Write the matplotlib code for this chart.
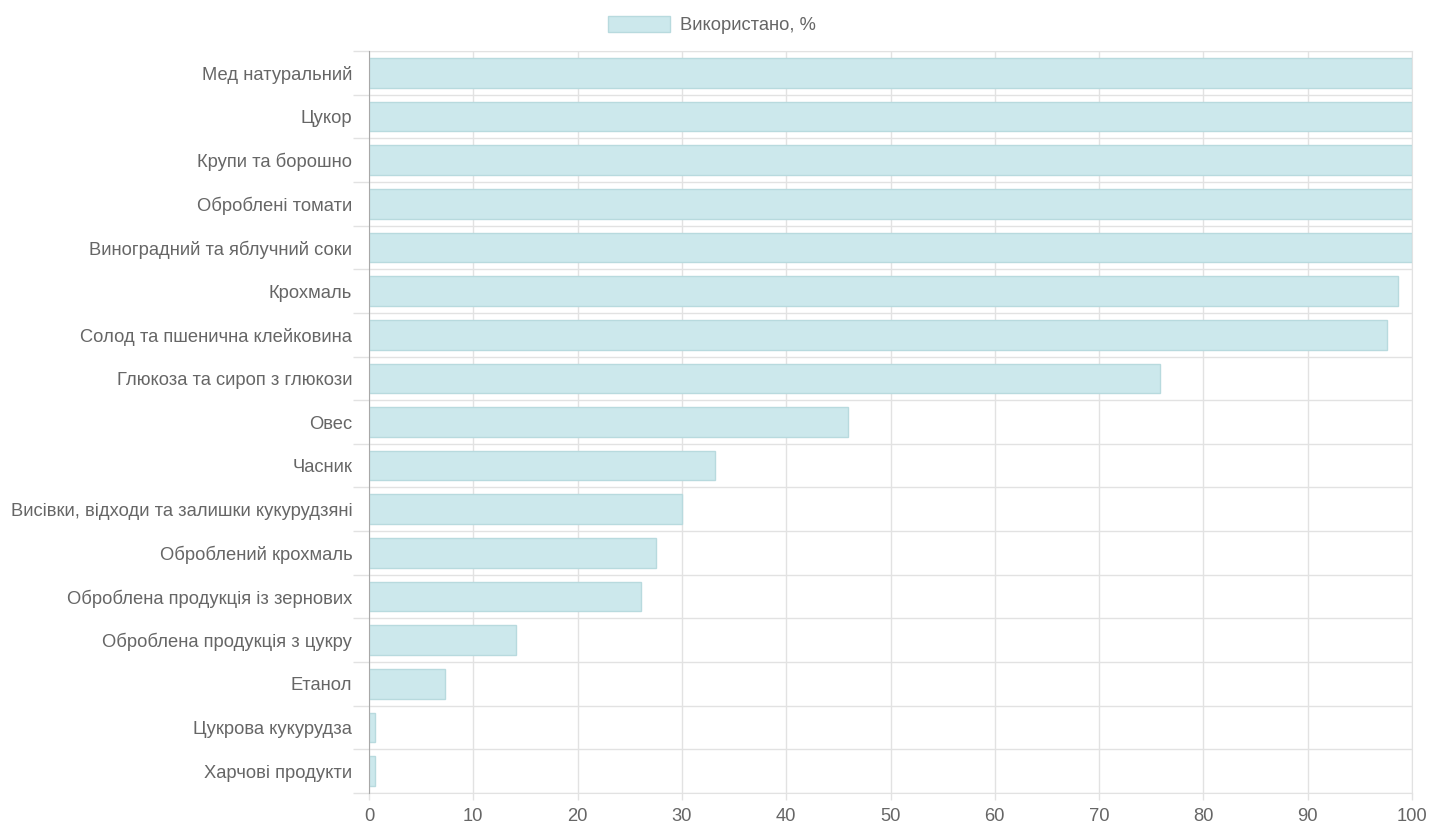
import matplotlib.pyplot as plt
import numpy as np
from matplotlib.ticker import FixedLocator

plt.rcParams['font.family'] = ['Liberation Sans', 'DejaVu Sans']

categories = [
    'Мед натуральний',
    'Цукор',
    'Крупи та борошно',
    'Оброблені томати',
    'Виноградний та яблучний соки',
    'Крохмаль',
    'Солод та пшенична клейковина',
    'Глюкоза та сироп з глюкози',
    'Овес',
    'Часник',
    'Висівки, відходи та залишки кукурудзяні',
    'Оброблений крохмаль',
    'Оброблена продукція із зернових',
    'Оброблена продукція з цукру',
    'Етанол',
    'Цукрова кукурудза',
    'Харчові продукти',
]
used_pct = [100, 100, 100, 100, 100, 98.7, 97.6, 75.8, 45.9, 33.2, 30.0,
            27.5, 26.1, 14.1, 7.3, 0.6, 0.6]
x_ticks = [0, 10, 20, 30, 40, 50, 60, 70, 80, 90, 100]
legend_label = 'Використано, %'

text_color = '#666666'
grid_color = '#e2e2e2'
fs = 13.2

fig = plt.figure(figsize=(14.3, 8.26), dpi=100)
ax = fig.add_axes([369 / 1430, 1 - 793 / 826, (1412 - 369) / 1430, (793 - 51) / 826])

y = np.arange(len(categories))
ax.barh(y, used_pct, height=0.68, color='#cce8ec', edgecolor='#b8dade',
        linewidth=1, label=legend_label, zorder=2)

ax.set_xlim(0, 100)
ax.set_ylim(len(categories) - 0.5, -0.5)
ax.set_xticks(x_ticks)
ax.set_yticks(y)
ax.set_yticklabels(categories)
ax.yaxis.set_minor_locator(FixedLocator(np.arange(len(categories) + 1) - 0.5))

ax.grid(axis='x', color=grid_color, linewidth=1, zorder=0)
ax.grid(axis='y', which='minor', color=grid_color, linewidth=1, zorder=0)
ax.set_axisbelow(True)

ax.tick_params(axis='y', which='major', length=0, pad=12, labelsize=fs,
               labelcolor=text_color)
ax.tick_params(axis='y', which='minor', length=11.5, width=1, color=grid_color)
ax.tick_params(axis='x', which='major', length=5, width=1, color=grid_color,
               pad=6, labelsize=fs, labelcolor=text_color)

for side in ['top', 'right', 'bottom']:
    ax.spines[side].set_color(grid_color)
ax.spines['left'].set_color('#a8a8a8')
ax.spines['left'].set_zorder(3)

ax.legend(loc='lower center', bbox_to_anchor=(0.329, 1.0), frameon=False,
          handlelength=3.35, handleheight=1.0, handletextpad=0.55,
          fontsize=fs, labelcolor=text_color)

fig.savefig('out.png', dpi=100)
